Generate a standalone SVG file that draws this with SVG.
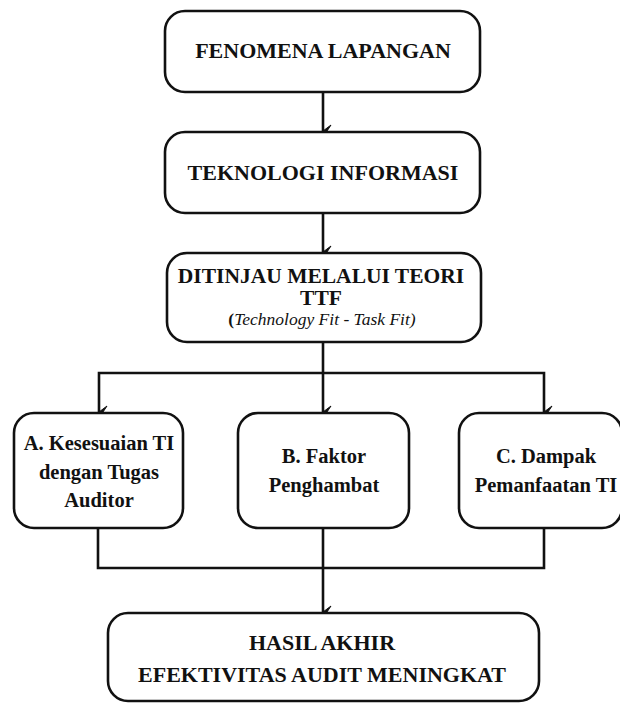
<svg xmlns="http://www.w3.org/2000/svg" width="620" height="703" viewBox="0 0 620 703">
<style>
.box{fill:#fff;stroke:#111;stroke-width:2.6}
.t{font-family:"Liberation Serif","DejaVu Serif",serif;font-weight:bold;fill:#111;text-anchor:middle}
.big{font-size:22px}
.mid{font-size:20.5px}
.it{font-family:"Liberation Serif","DejaVu Serif",serif;font-style:italic;font-weight:normal;font-size:17.5px;fill:#111;text-anchor:middle}
.ln{fill:none;stroke:#111;stroke-width:2.6}
</style>
<defs>
<marker id="ah" markerUnits="userSpaceOnUse" markerWidth="14" markerHeight="12" viewBox="0 0 14 12" refX="7" refY="11" orient="auto-start-reverse">
<path d="M1,3 L7,11 L13,3 L7,7 Z" fill="#111" stroke="#111" stroke-width="1" stroke-linejoin="miter"/>
</marker>
</defs>
<g id="connectors">
<line class="ln" x1="323" y1="92" x2="323" y2="131" marker-end="url(#ah)"/>
<line class="ln" x1="323" y1="213" x2="323" y2="252" marker-end="url(#ah)"/>
<line class="ln" x1="323" y1="342" x2="323" y2="412" marker-end="url(#ah)"/>
<polyline class="ln" points="99,412 99,373 544,373 544,412" marker-start="url(#ah)" marker-end="url(#ah)"/>
<polyline class="ln" points="98,528 98,568 544,568 544,528"/>
<line class="ln" x1="323" y1="528" x2="323" y2="612" marker-end="url(#ah)"/>
</g>
<g id="node-fenomena">
<rect class="box" x="165" y="11" width="315" height="81" rx="20"/>
<text class="t big" x="323" y="58">FENOMENA LAPANGAN</text>
</g>
<g id="node-teknologi">
<rect class="box" x="165" y="132" width="315" height="81" rx="20"/>
<text class="t big" x="323" y="180">TEKNOLOGI INFORMASI</text>
</g>
<g id="node-ttf">
<rect class="box" x="167" y="253" width="314" height="89" rx="20"/>
<text class="t big" x="321" y="283" style="font-size:21.5px">DITINJAU MELALUI TEORI</text>
<text class="t big" x="321" y="305" style="font-size:21.5px">TTF</text>
<text class="it" x="322" y="325"><tspan font-weight="bold" font-style="normal">(</tspan>Technology Fit - Task Fit)</text>
</g>
<g id="node-a">
<rect class="box" x="14" y="413" width="169" height="115" rx="20"/>
<text class="t mid" x="99" y="450">A. Kesesuaian TI</text>
<text class="t mid" x="99" y="479">dengan Tugas</text>
<text class="t mid" x="99" y="507">Auditor</text>
</g>
<g id="node-b">
<rect class="box" x="238" y="413" width="171" height="115" rx="20"/>
<text class="t mid" x="324" y="463">B. Faktor</text>
<text class="t mid" x="324" y="492">Penghambat</text>
</g>
<g id="node-c">
<rect class="box" x="459" y="413" width="163" height="115" rx="20"/>
<text class="t mid" x="546" y="463">C. Dampak</text>
<text class="t mid" x="546" y="492">Pemanfaatan TI</text>
</g>
<g id="node-hasil">
<rect class="box" x="108" y="613" width="431" height="88" rx="20"/>
<text class="t big" x="322" y="650">HASIL AKHIR</text>
<text class="t big" x="322" y="682">EFEKTIVITAS AUDIT MENINGKAT</text>
</g>
</svg>
